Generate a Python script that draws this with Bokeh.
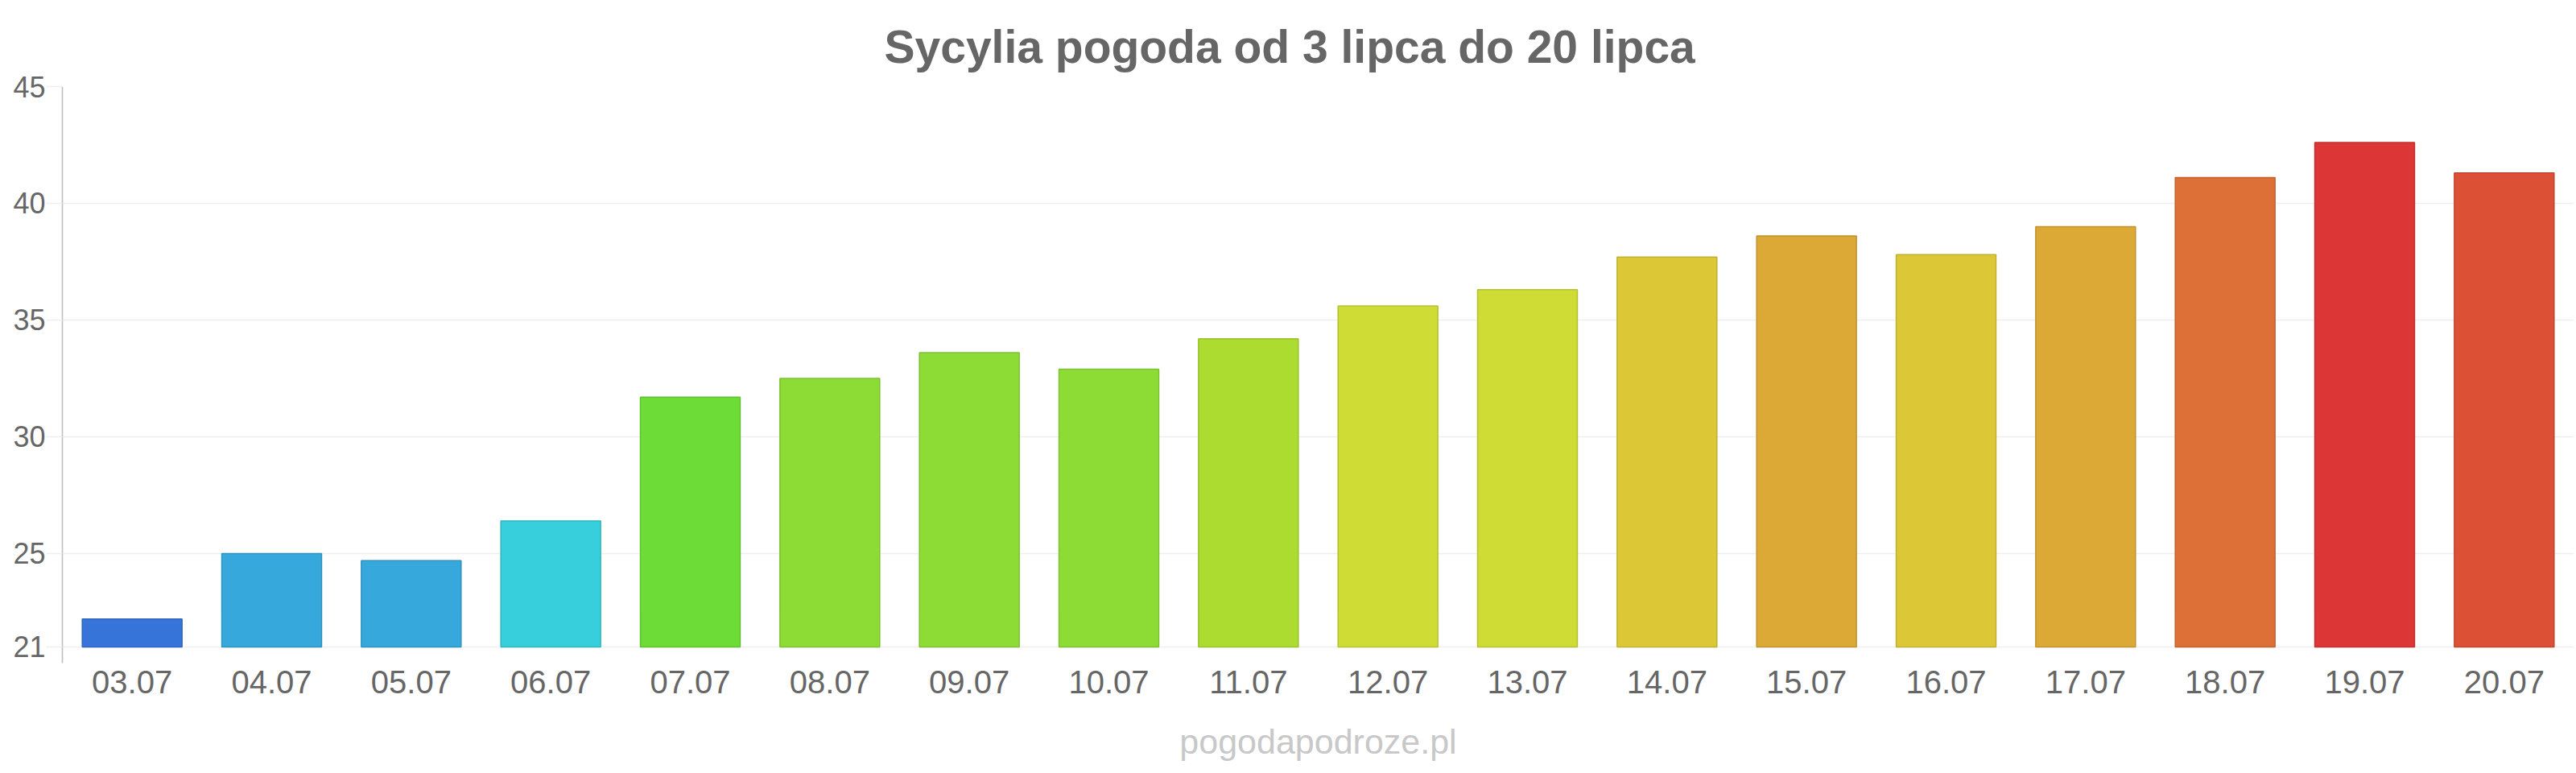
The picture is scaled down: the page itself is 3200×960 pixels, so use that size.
from bokeh.plotting import figure
from bokeh.models import FactorRange, Range1d, FixedTicker, Title, ColumnDataSource
from bokeh.embed import file_html
from bokeh.resources import INLINE

title_text = "Sycylia pogoda od 3 lipca do 20 lipca"
watermark = "pogodapodroze.pl"
dates = ["03.07", "04.07", "05.07", "06.07", "07.07", "08.07", "09.07", "10.07", "11.07",
         "12.07", "13.07", "14.07", "15.07", "16.07", "17.07", "18.07", "19.07", "20.07"]
temps = [22.2, 25.0, 24.7, 26.4, 31.7, 32.5, 33.6, 32.9, 34.2,
         35.6, 36.3, 37.7, 38.6, 37.8, 39.0, 41.1, 42.6, 41.3]
colors = ["#3674d9", "#36a8db", "#36a8db", "#36cfdb", "#6ddc36", "#8ddc36", "#8ddc36", "#8ddc36", "#addc31",
          "#cfdc36", "#cfdc36", "#dcc836", "#dca836", "#dcc836", "#dca836", "#dc7036", "#dc3636", "#dc5036"]
y_ticks = [21, 25, 30, 35, 40, 45]
base = 21

def darker(h, f=0.88):
    r, g, b = int(h[1:3], 16), int(h[3:5], 16), int(h[5:7], 16)
    return "#%02x%02x%02x" % (int(r * f), int(g * f), int(b * f))

src = ColumnDataSource(dict(x=dates, top=temps, color=colors,
                            line=[darker(c) for c in colors]))

p = figure(frame_width=3120, frame_height=716, output_backend="svg", toolbar_location=None,
           x_range=FactorRange(*dates), y_range=Range1d(20.31, 45),
           min_border_left=77, min_border_right=3, min_border_top=107, min_border_bottom=100)
p.outline_line_color = None
p.background_fill_color = "white"

p.vbar(x="x", top="top", bottom=base, width=0.715, fill_color="color",
       line_color="line", line_width=1.5, source=src)

p.xgrid.grid_line_color = None
p.ygrid.grid_line_color = "#efefef"
p.ygrid.grid_line_width = 1.5
p.yaxis.ticker = FixedTicker(ticks=y_ticks)
p.yaxis.axis_line_color = "#bdbdbd"
p.yaxis.axis_line_width = 1.5
p.yaxis.major_tick_in = 0
p.yaxis.major_tick_out = 20
p.yaxis.major_tick_line_color = "#efefef"
p.yaxis.major_tick_line_width = 1.5
p.yaxis.minor_tick_line_color = None
p.yaxis.major_label_standoff = 1
p.yaxis.major_label_text_font = "Liberation Sans"
p.yaxis.major_label_text_font_size = "36px"
p.yaxis.major_label_text_color = "#666666"

p.xaxis.axis_line_color = None
p.xaxis.major_tick_line_color = None
p.xaxis.minor_tick_line_color = None
p.xaxis.major_tick_out = 0
p.xaxis.major_tick_in = 0
p.xaxis.major_label_standoff = 9
p.xaxis.major_label_text_font = "Liberation Sans"
p.xaxis.major_label_text_font_size = "40px"
p.xaxis.major_label_text_color = "#666666"

p.title = Title(text=title_text, align="left", offset=1021, standoff=36,
                text_font="Liberation Sans", text_font_style="bold",
                text_font_size="57px", text_color="#666666")
p.add_layout(Title(text=watermark, align="center", standoff=63,
                   text_font="Liberation Sans", text_font_style="normal",
                   text_font_size="43px", text_color="#c8c8c8"), "below")

open("out.html", "w").write(file_html(p, INLINE))
